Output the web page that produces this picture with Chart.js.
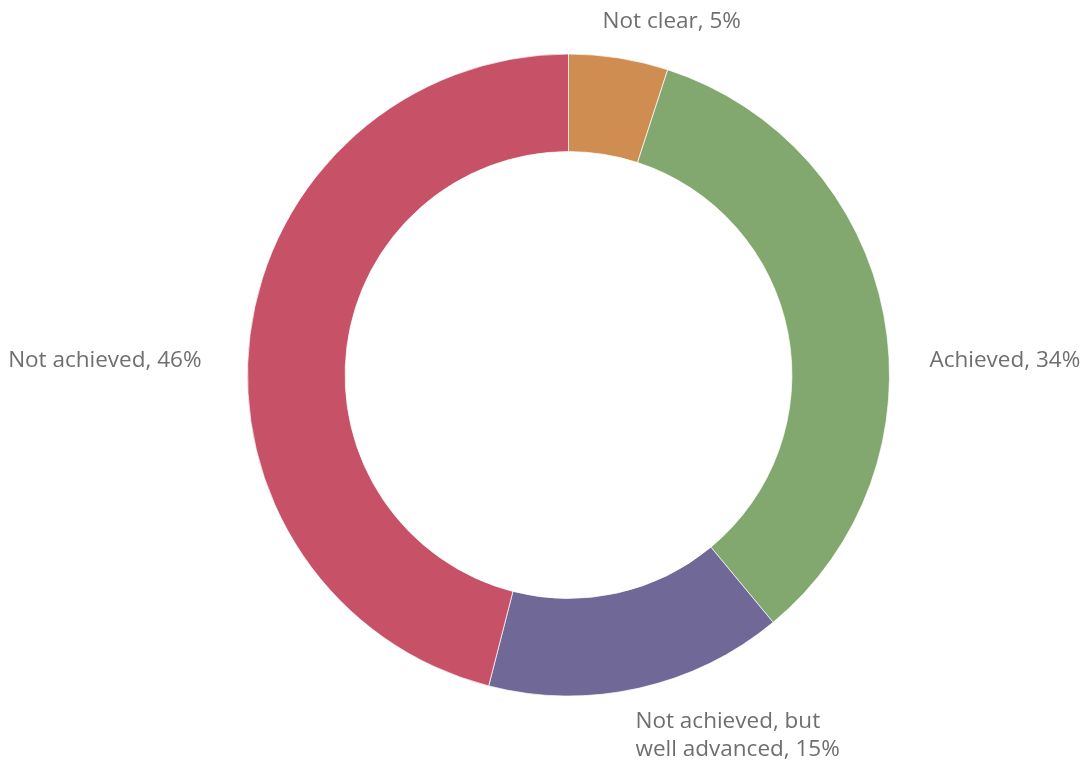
<!DOCTYPE html>
<html>
<head>
<meta charset="utf-8">
<script src="https://cdn.jsdelivr.net/npm/chart.js@4"></script>
<style>
  html, body { margin: 0; padding: 0; background: #fff; }
  #wrap { width: 1089px; height: 762px; }
</style>
</head>
<body>
<div id="wrap"><canvas id="donut"></canvas></div>
<script>
const categories = ['Not clear', 'Achieved', 'Not achieved, but well advanced', 'Not achieved'];
const shares = [5, 34, 15, 46];
const labelLines = [
    ['Not clear, 5%'],
    ['Achieved, 34%'],
    ['Not achieved, but', 'well advanced, 15%'],
    ['Not achieved, 46%']
];
const sliceColors = ['#D08D52', '#83A86F', '#706897', '#C75167'];

// draws the outside labels next to each slice
const outsideLabels = {
    id: 'outsideLabels',
    afterDatasetsDraw(chart) {
        const ctx = chart.ctx;
        const arcs = chart.getDatasetMeta(0).data;
        ctx.save();
        ctx.font = '22.5px "Open Sans", Lato, sans-serif';
        ctx.fillStyle = '#6f6f6f';
        ctx.textBaseline = 'alphabetic';
        arcs.forEach(function (arc, i) {
            const p = arc.getProps(['x', 'y', 'startAngle', 'endAngle', 'outerRadius']);
            const mid = (p.startAngle + p.endAngle) / 2;
            const c = Math.cos(mid), s = Math.sin(mid);
            const lines = labelLines[i];
            let x, y;
            if (Math.abs(c) > 0.9) {
                ctx.textAlign = c > 0 ? 'left' : 'right';
                x = p.x + (c > 0 ? p.outerRadius + 40 : -(p.outerRadius + 46));
                y = p.y - 8;
            } else if (s < 0) {
                ctx.textAlign = 'center';
                x = p.x + p.outerRadius * c + 53;
                y = p.y - p.outerRadius - 26;
            } else {
                ctx.textAlign = 'left';
                x = p.x + p.outerRadius * c - 3;
                y = p.y + p.outerRadius + 32;
            }
            lines.forEach(function (line, k) {
                ctx.fillText(line, x, y + k * 28);
            });
        });
        ctx.restore();
    }
};

new Chart(document.getElementById('donut').getContext('2d'), {
    type: 'doughnut',
    data: {
        labels: categories,
        datasets: [{
            data: shares,
            backgroundColor: sliceColors,
            borderColor: 'rgba(255,255,255,0.7)',
            borderWidth: 1
        }]
    },
    options: {
        responsive: true,
        maintainAspectRatio: false,
        animation: false,
        cutout: '69.6%',
        layout: {
            padding: { top: 53, bottom: 65, left: 247, right: 199 }
        },
        plugins: {
            legend: { display: false },
            tooltip: { enabled: false }
        }
    },
    plugins: [outsideLabels]
});
</script>
</body>
</html>
